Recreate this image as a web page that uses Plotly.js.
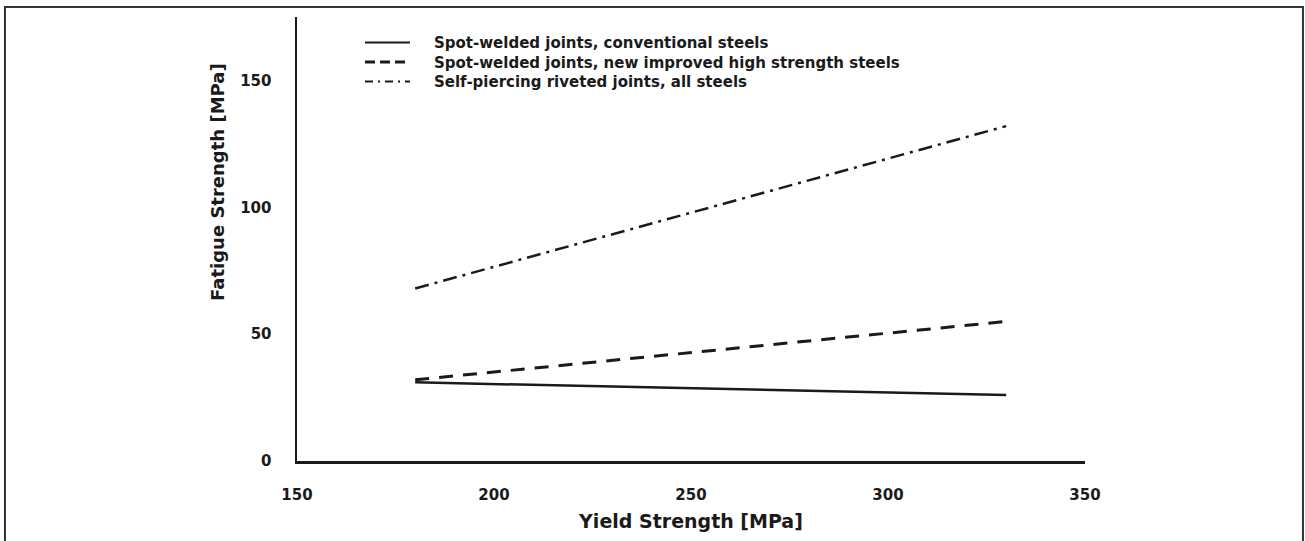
<!DOCTYPE html>
<html>
<head>
<meta charset="utf-8">
<script src="https://cdn.plot.ly/plotly-3.0.1.min.js"></script>
<style>html,body{margin:0;padding:0;background:#fff;}#chart{width:1305px;height:541px;}</style>
</head>
<body>
<div id="chart"></div>
<script>
const xYield = [180, 330];
const solidConv = [31, 26];
const dashedNew = [32, 55];
const dashdotSPR = [68, 132];
const seriesNames = [
  "Spot-welded joints, conventional steels",
  "Spot-welded joints, new improved high strength steels",
  "Self-piercing riveted joints, all steels"
];
const xTicks = [150, 200, 250, 300, 350];
const yTicks = [0, 50, 100, 150];

const fontFam = "DejaVu Sans, Arial, sans-serif";
const ink = "#1a1a1a";
const dashes = ["solid", "14px,10px", "14px,6px,3px,6px"];
const legendDashes = ["solid", "10px,5px", "8px,5px,2px,5px"];

const traces = [
  {x: xYield, y: solidConv, name: seriesNames[0], mode: "lines",
   line: {color: ink, width: 2.5, dash: dashes[0]}},
  {x: xYield, y: dashedNew, name: seriesNames[1], mode: "lines",
   line: {color: ink, width: 3, dash: dashes[1]}},
  {x: xYield, y: dashdotSPR, name: seriesNames[2], mode: "lines",
   line: {color: ink, width: 2.5, dash: dashes[2]}}
];

// legend drawn as paper-positioned samples + one multi-line text block
const legY = [0.9426, 0.8986, 0.8547];
const legShapes = seriesNames.map((n, i) => ({
  type: "line", xref: "paper", yref: "paper", x0: 0.0863, x1: 0.1434, y0: legY[i], y1: legY[i],
  line: {color: ink, width: i === 1 ? 3 : 2, dash: legendDashes[i]}
}));
const legAnn = {
  xref: "paper", yref: "paper", x: 0.1713, y: legY[1], xanchor: "left", yanchor: "middle",
  align: "left", text: seriesNames.join("<br>"), showarrow: false,
  font: {family: fontFam, size: 15, color: ink, weight: "bold"}
};

const layout = {
  width: 1305, height: 541,
  margin: {l: 297, r: 220, t: 17, b: 80},
  paper_bgcolor: "#fff", plot_bgcolor: "#fff",
  showlegend: false,
  xaxis: {range: [150, 350], tickvals: xTicks, ticktext: xTicks.map(String),
    showgrid: false, zeroline: false, showline: true, linecolor: ink, linewidth: 2.5,
    ticks: "", ticklabelstandoff: 18,
    tickfont: {family: fontFam, size: 15, color: ink, weight: "bold"},
    title: {text: "Yield Strength [MPa]", standoff: 12,
      font: {family: fontFam, size: 19, color: ink, weight: "bold"}}},
  yaxis: {range: [0, 175], tickvals: yTicks, ticktext: yTicks.map(String),
    showgrid: false, zeroline: false, showline: true, linecolor: ink, linewidth: 2.5,
    ticks: "", ticklabelstandoff: 20,
    tickfont: {family: fontFam, size: 15, color: ink, weight: "bold"}},
  annotations: [{
    xref: "paper", yref: "paper", x: -0.1003, y: 0.6284, text: "Fatigue Strength [MPa]",
    textangle: -90, showarrow: false, xanchor: "center", yanchor: "middle",
    font: {family: fontFam, size: 18, color: ink, weight: "bold"}
  }, legAnn],
  shapes: [{type: "rect", xref: "paper", yref: "paper",
    x0: -0.3706, x1: 1.2766, y0: -0.4, y1: 1.0225,
    line: {color: "#333", width: 2}, fillcolor: "rgba(0,0,0,0)"}].concat(legShapes)
};

Plotly.newPlot("chart", traces, layout, {displayModeBar: false, staticPlot: true});
</script>
</body>
</html>
